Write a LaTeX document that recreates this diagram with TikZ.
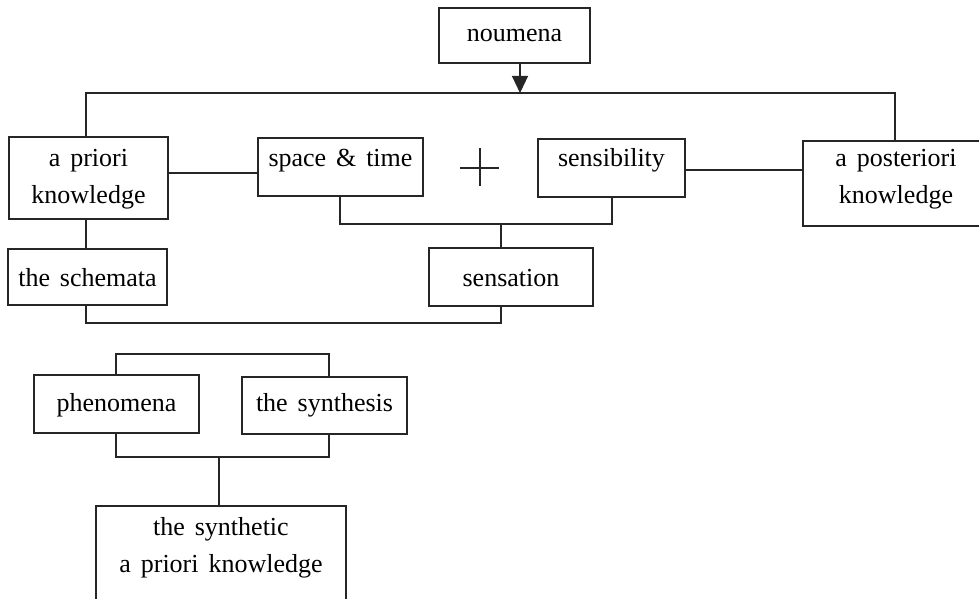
\documentclass[tikz,border=0pt]{standalone}
\usepackage{fontspec}
\setmainfont{Liberation Serif}
\usetikzlibrary{arrows.meta}

\newcommand{\boxfont}{\fontsize{13}{18.5}\selectfont\spaceskip=0.38em plus 0.1em\relax}
\tikzset{
  box/.style={draw=black!85, line width=0.55pt, inner sep=0pt, anchor=base,
    font=\boxfont},
  link/.style={draw=black!85, line width=0.55pt}
}
\newcommand{\twolines}[2]{\begin{tabular}[t]{@{}c@{}}#1\\#2\end{tabular}}

\begin{document}
\begin{tikzpicture}[x=0.5pt,y=-0.5pt]
 \useasboundingbox (0,0) rectangle (979,599);
 \clip (0,0) rectangle (979,599);
 % top row
 \node[box, minimum width=75.5pt, text height=17pt, text depth=10.5pt] (noumena) at (514.5,42) {noumena};
 \node[box, minimum width=79.5pt, text height=14.5pt, text depth=26.5pt] (apriori) at (88.5,166) {\twolines{a priori}{knowledge}};
 \node[box, minimum width=82.5pt, text height=14pt, text depth=15pt] (space) at (340.5,166) {space \& time};
 \node[box, minimum width=73.5pt, text height=13.5pt, text depth=15.5pt] (sensib) at (611.5,166) {sensibility};
 \node[box, minimum width=93pt, text height=12.5pt, text depth=30pt] (apost) at (896,166) {\twolines{a posteriori}{knowledge}};
 \node[box, minimum width=79.5pt, text height=18.5pt, text depth=9.5pt] (schemata) at (87.5,286) {the schemata};
 \node[box, minimum width=82pt, text height=19pt, text depth=10pt] (sensation) at (511,286) {sensation};
 % lower group
 \node[box, minimum width=82.5pt, text height=18pt, text depth=11pt] (phenom) at (116.5,411) {phenomena};
 \node[box, minimum width=82.5pt, text height=17pt, text depth=11.5pt] (synth) at (324.5,411) {the synthesis};
 \node[box, minimum width=125pt, text height=14.5pt, text depth=47.5pt] (synthetic) at (221,535) {\twolines{the synthetic}{a priori knowledge}};

 % connectors
 \coordinate (split) at (520,93);
 \draw[link,-{Triangle[width=8pt,length=8.5pt]}] (noumena.south -| split) -- (split);
 \draw[link] (86,0 |- apriori.north) |- (895,93) -- (895,0 |- apost.north);
 \draw[link] (apriori.east |- 0,173) -- (space.west |- 0,173);
 \draw[link] (sensib.east |- 0,170) -- (apost.west |- 0,170);
 \draw[link] (340,0 |- space.south) |- (612,224) -- (612,0 |- sensib.south);
 \draw[link] (501,224) -- (501,0 |- sensation.north);
 \draw[link] (86,0 |- apriori.south) -- (86,0 |- schemata.north);
 \draw[link] (86,0 |- schemata.south) |- (501,323) -- (501,0 |- sensation.south);
 \draw[link] (116,0 |- phenom.north) |- (329,354) -- (329,0 |- synth.north);
 \draw[link] (116,0 |- phenom.south) |- (329,457) -- (329,0 |- synth.south);
 \draw[link] (219,457) -- (219,0 |- synthetic.north);
 % plus sign
 \draw[line width=1pt, black!85] (460,168) -- (499,168) (480,148) -- (480,186);
\end{tikzpicture}
\end{document}
